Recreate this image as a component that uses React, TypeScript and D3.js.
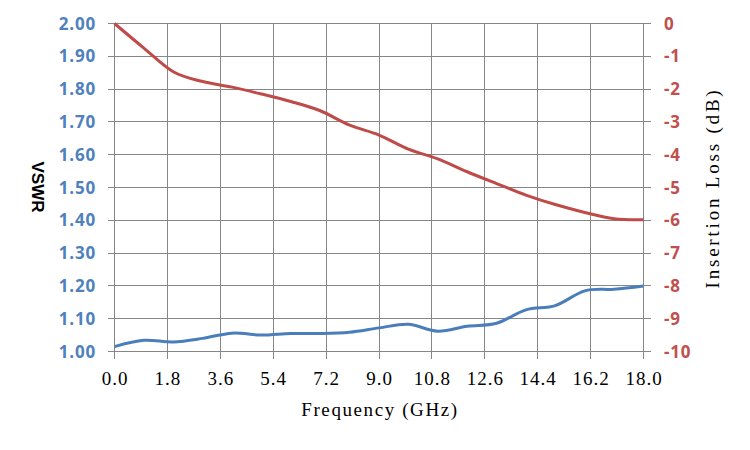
import * as d3 from "d3";
import React from "react";

const freqGHz = [0, 1, 2, 3, 4, 5, 6, 7, 8, 9, 10, 11, 12, 13, 14, 15, 16, 17, 18];
const vswr = [
  1.015, 1.034, 1.029, 1.04, 1.056, 1.05, 1.055, 1.055, 1.059, 1.072, 1.083,
  1.062, 1.077, 1.086, 1.127, 1.14, 1.185, 1.19, 1.2,
];
const insertionLoss = [
  0, -0.75, -1.47, -1.77, -1.94, -2.15, -2.38, -2.66, -3.1, -3.4, -3.83, -4.13,
  -4.52, -4.88, -5.23, -5.52, -5.76, -5.95, -5.98,
];

const xTicks = [0, 1.8, 3.6, 5.4, 7.2, 9.0, 10.8, 12.6, 14.4, 16.2, 18.0];
const vswrTicks = [1.0, 1.1, 1.2, 1.3, 1.4, 1.5, 1.6, 1.7, 1.8, 1.9, 2.0];
const lossTicks = [0, -1, -2, -3, -4, -5, -6, -7, -8, -9, -10];

const width = 750;
const height = 450;
const left = 114.5;
const right = 643.5;
const top = 23.5;
const bottom = 351.5;
const tick = 7;

const blue = "#4a7ebb";
const red = "#be4b48";
const grid = "#868686";
const serifFont = "'Liberation Serif', serif";
const boldFont = "'Open Sans', 'Liberation Sans', sans-serif";

const App = () => {
  const x = d3.scaleLinear().domain([0, 18]).range([left, right]);
  const yL = d3.scaleLinear().domain([1, 2]).range([bottom, top]);
  const yR = d3.scaleLinear().domain([-10, 0]).range([bottom, top]);

  const vswrLine = d3
    .line<number>()
    .x((_, i) => x(freqGHz[i]))
    .y((d) => yL(d))
    .curve(d3.curveCardinal.tension(0));

  const lossLine = d3
    .line<number>()
    .x((_, i) => x(freqGHz[i]))
    .y((d) => yR(d))
    .curve(d3.curveCardinal.tension(0));

  return (
    <svg
      width={width}
      height={height}
      style={{ position: "absolute", left: 0, top: 0, background: "#fff" }}
    >
      <g shapeRendering="crispEdges" stroke={grid} strokeWidth={1}>
        {vswrTicks.map((t) => (
          <line key={"h" + t} x1={left - tick} x2={right + tick} y1={yL(t)} y2={yL(t)} />
        ))}
        {xTicks.map((t) => (
          <line key={"v" + t} x1={x(t)} x2={x(t)} y1={top} y2={bottom + tick} />
        ))}
      </g>

      <path d={lossLine(insertionLoss) ?? ""} fill="none" stroke={red} strokeWidth={3} />
      <path d={vswrLine(vswr) ?? ""} fill="none" stroke={blue} strokeWidth={3} />

      <g fontFamily={boldFont} fontWeight="bold" fontSize={17} letterSpacing={0.8}>
        {vswrTicks.map((t) => (
          <text key={"l" + t} x={96} y={yL(t) + 6} textAnchor="end" fill="#4f81bd">
            {t.toFixed(2)}
          </text>
        ))}
        {lossTicks.map((t) => (
          <text key={"r" + t} x={664} y={yR(t) + 6} fill="#c0504d">
            {String(t)}
          </text>
        ))}
      </g>

      <g fontFamily={serifFont} fontSize={19} letterSpacing={1}>
        {xTicks.map((t) => (
          <text key={"x" + t} x={x(t) + 0.5} y={385} textAnchor="middle" fill="#000">
            {t.toFixed(1)}
          </text>
        ))}
      </g>

      <text
        x={380}
        y={416}
        textAnchor="middle"
        fontFamily={serifFont}
        fontSize={19}
        letterSpacing={1.6}
        fill="#000"
      >
        Frequency (GHz)
      </text>

      <text
        transform={`translate(719, 188) rotate(-90)`}
        textAnchor="middle"
        fontFamily={serifFont}
        fontSize={19}
        letterSpacing={2.8}
        fill="#000"
      >
        Insertion Loss (dB)
      </text>

      <text
        transform={`translate(32, 187) rotate(90)`}
        textAnchor="middle"
        fontFamily="'Liberation Sans', sans-serif"
        fontWeight="bold"
        fontSize={17}
        fill="#000"
      >
        VSWR
      </text>
    </svg>
  );
};

export default App;
